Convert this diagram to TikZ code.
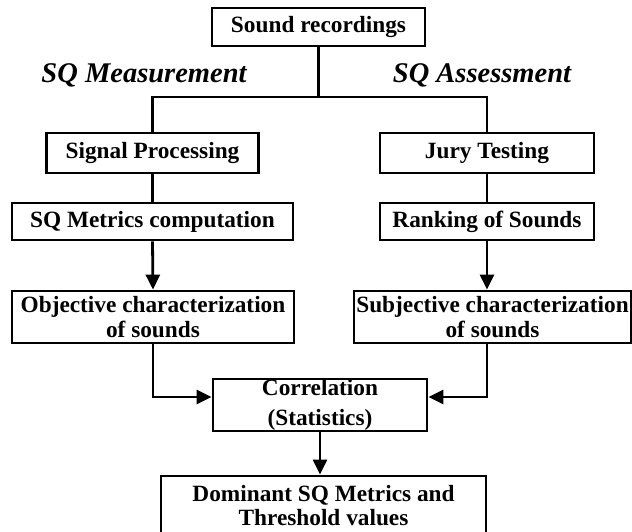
\documentclass[tikz,border=0pt]{standalone}
\usepackage{fontspec}
\setmainfont{Liberation Serif}
\usetikzlibrary{arrows.meta}
\begin{document}
\begin{tikzpicture}[x=1pt,y=-1pt,
  box/.style={draw=black, line width=2.8pt, rectangle, inner sep=0pt, align=center,
    font=\fontsize{23.3}{24.5}\selectfont\bfseries},
  lbl/.style={inner sep=0pt, font=\fontsize{28.5}{30}\selectfont\bfseries\itshape},
  conn/.style={line width=2.8pt},
  arr/.style={line width=2.8pt, -{Triangle[length=15pt,width=14pt]}}]
\useasboundingbox (0,0) rectangle (632,531);
\clip (0,0) rectangle (632,531);
\node[box, minimum width=213pt, minimum height=38pt] (rec) at (318.5,27) {Sound recordings};
\node[lbl] (lm) at (144,75) {SQ Measurement};
\node[lbl] (la) at (482,75) {SQ Assessment};
\node[box, minimum width=212pt, minimum height=40pt] (sp) at (152.5,153) {Signal Processing};
\node[box, minimum width=214pt, minimum height=40pt] (jt) at (487,153) {Jury Testing};
\node[box, minimum width=281pt, minimum height=37pt] (sqm) at (152.5,221.5) {SQ Metrics computation};
\node[box, minimum width=214pt, minimum height=37pt] (rk) at (487,221.5) {Ranking of Sounds};
\node[box, minimum width=282pt, minimum height=52pt] (obj) at (153,317) {Objective characterization\\of sounds};
\node[box, minimum width=277pt, minimum height=52pt] (subj) at (492.5,317) {Subjective characterization\\of sounds};
\node[box, minimum width=214pt, minimum height=52pt] (corr) at (320,405) {Correlation\\[6pt](Statistics)};
\node[box, minimum width=325pt, minimum height=59pt] (dom) at (323.5,505.5) {Dominant SQ Metrics and\\Threshold values};
\coordinate (split) at (318.5,97);
\draw[conn] (rec.south) -- (split);
\draw[conn] (split) -| (sp.north);
\draw[conn] (split) -| (jt.north);
\draw[conn] (sp.south) -- (sqm.north);
\draw[conn] (jt.south) -- (rk.north);
\draw[arr] (sqm.south) -- (obj.north);
\draw[arr] (rk.south) -- (rk.south |- subj.north);
\draw[arr] (obj.south) |- ([yshift=8pt]corr.west);
\draw[arr] (rk.south |- subj.south) |- ([yshift=8pt]corr.east);
\draw[arr] (corr.south) -- (corr.south |- dom.north);
\end{tikzpicture}
\end{document}
